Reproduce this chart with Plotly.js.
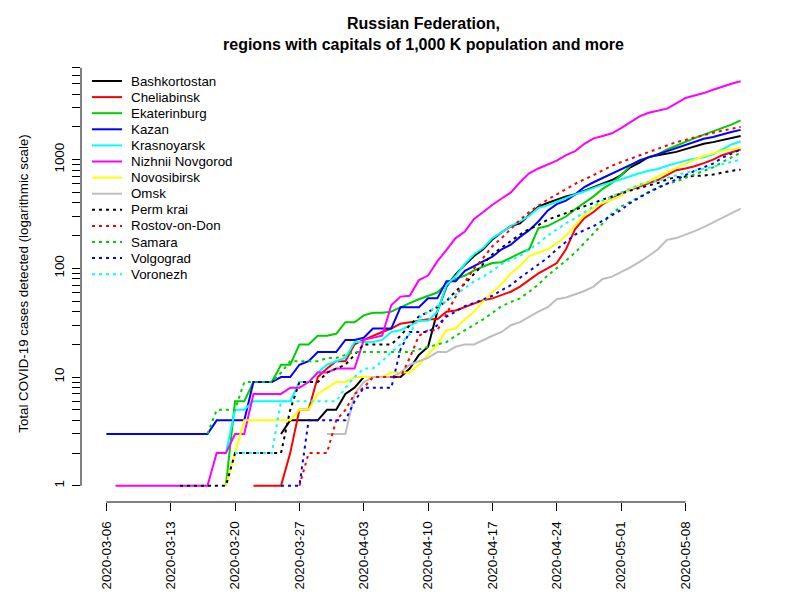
<!DOCTYPE html>
<html><head><meta charset="utf-8">
<script src="https://cdn.plot.ly/plotly-3.0.1.min.js"></script>
<style>body{margin:0;padding:0;background:#fff}#chart{width:800px;height:600px}</style>
</head><body><div id="chart"></div>
<script>
// ---- data (day index 0 = 2020-03-06) ----
const startDate = '2020-03-06';
const nDays = 70;
const regions = ['Bashkortostan','Cheliabinsk','Ekaterinburg','Kazan','Krasnoyarsk','Nizhnii Novgorod','Novosibirsk','Omsk','Perm krai','Rostov-on-Don','Samara','Volgograd','Voronezh'];
const colors = ['#000000','#FF0000','#00CD00','#0000FF','#00FFFF','#FF00FF','#FFFF00','#BEBEBE','#000000','#FF0000','#00CD00','#0000FF','#00FFFF'];
const lineTypes = ['solid','solid','solid','solid','solid','solid','solid','solid','dotted','dotted','dotted','dotted','dotted'];
const firstDay = [19,16,13,0,13,1,13,24,8,21,11,19,14];

const bashkortostan = [3,4,4,4,4,5,5,7,8,10, 10,10,10,10,12,16,19,40,68,88, 108,130,150,185,215,245,260,310,370,400, 430,460,480,520,560,610,650,720,850,940, 1060,1100,1140,1180,1250,1330,1400,1450,1520,1590, 1650];
const cheliabinsk = [1,1,1,1,2,5,5,10,12,14, 14,20,22,24,26,28,31,32,33,34, 34,40,41,44,48,51,53,57,61,68, 78,90,100,112,150,230,290,330,390,440, 490,530,570,610,650,720,800,830,870,930, 1000,1100,1170,1240];
const ekaterinburg = [1,6,6,9,9,9,13,13,20,20, 24,24,25,32,32,37,39,39,40,44, 48,52,56,60,72,80,86,96,104,112, 114,126,138,150,235,245,270,300,350,400, 460,540,610,720,880,990,1050,1120,1240,1350, 1470,1580,1700,1820,1950,2100,2300];
const kazan = [3,3,3,3,3,3,3,3,3,3, 3,3,4,4,4,4,9,9,9,10, 10,13,14,17,17,17,22,22,23,28, 28,28,44,44,44,53,53,76,76,95, 105,115,128,150,165,195,225,270,340,390, 420,480,560,620,680,740,820,900,980,1050, 1120,1200,1280,1370,1460,1560,1620,1720,1800,1880];
const krasnoyarsk = [2,5,5,6,6,6,6,6,9,9, 11,13,14,15,21,21,21,22,26,27, 30,33,33,40,70,85,110,135,155,190, 215,245,270,305,360,380,410,445,480,510, 550,590,620,660,710,750,790,820,880,930, 980,1020,1050,1120,1240,1380,1470];
const nizhniiNovgorod = [1,1,1,1,1,1,1,1,1,1,1, 2,2,3,3,7,7,7,7,8,8, 9,11,11,12,12,12,22,23,24,46, 55,56,78,86,116,148,190,218,285,330, 385,440,500,620,750,830,900,980,1100,1200, 1400,1570,1650,1750,1950,2200,2500,2700,2800,2950, 3300,3700,3900,4100,4400,4700,5000,5270];
const novosibirsk = [1,2,4,4,4,4,4,4,5,5, 7,8,9,9,10,10,10,10,11,11, 11,13,16,20,27,28,34,40,50,60, 72,90,105,130,140,150,170,200,250,310, 360,400,430,470,540,580,630,700,760,840, 920,1000,1080,1150,1210,1250,1290];
const omsk = [3,3,3,7,9,10,10,10,11,13, 14,15,17,17,19,20,20,22,24,26, 30,32,36,40,44,52,54,58,62,68, 80,84,92,102,115,130,150,183,190,203, 220,240,265,295,320,355];
const permKrai = [1,1,1,1,1,1, 2,2,2,2,2,2, 5,9,9,9,11,12,13,16,20,20, 20,20,24,30,36,40,44,50,62,72, 90,110,135,155,180,205,230,250,280,300, 320,345,370,400,430,460,490,520,550,580, 610,660,690,700,705,715,730,760,790,810];
const rostovOnDon = [1,2,2,2,4,5,7,8,10,10, 10,10,15,24,27,27,38,55,75,100, 125,160,190,230,280,330,380,430,480,540, 600,660,720,800,880,950,1020,1100,1180,1270, 1370,1450,1520,1600,1700,1770,1850,1930,2000];
const samara = [3,5,5,5,9,9,9,9,11,14, 14,14,14,15,15,16,17,17,17,17, 17,17,17,18,19,20,21,24,27,30, 34,39,45,49,53,61,71,86,100,118, 140,170,210,260,320,370,410,460,510,560, 600,630,680,730,790,850,950,1050,1160];
const volgograd = [1,1,1,4,4,4,4,4,6,8, 8,8,8,18,26,26,26,30,36,40, 45,48,52,56,63,70,82,95,110,125, 150,175,205,225,245,275,310,345,400,450, 500,550,600,650,720,790,860,920,1040,1140, 1240];
const voronezh = [2,2,2,2,2,6,6,6,6,6, 6,6,8,10,12,12,14,17,20,25, 35,40,45,50,58,66,76,84,95,110, 120,130,150,170,200,230,260,290,330,370, 420,460,500,550,590,620,640,680,720,760, 790,820,860,910,950,1000];
const seriesValues = [bashkortostan, cheliabinsk, ekaterinburg, kazan, krasnoyarsk, nizhniiNovgorod, novosibirsk, omsk, permKrai, rostovOnDon, samara, volgograd, voronezh];

const xTickVals = ['2020-03-06','2020-03-13','2020-03-20','2020-03-27','2020-04-03','2020-04-10','2020-04-17','2020-04-24','2020-05-01','2020-05-08'];
const yTickVals = [1,2,3,4,5,6,7,8,9,10,20,30,40,50,60,70,80,90,100,200,300,400,500,600,700,800,900,1000,2000,3000,4000,5000,6000,7000];
const yTickLabeled = [1,10,100,1000];

const titleText = 'Russian Federation,<br>regions with capitals of 1,000 K population and more';
const yTitleText = 'Total COVID-19 cases detected (logarithmic scale)';

// ---- build ----
const dates = [];
{
  const d0 = new Date(startDate + 'T00:00:00Z');
  for (let i = 0; i < nDays; i++) {
    const d = new Date(d0.getTime() + i * 86400000);
    dates.push(d.toISOString().slice(0, 10));
  }
}
const FS = 13.33;
const DOT = '3px,4px';
const traces = regions.map((name, i) => {
  const vals = seriesValues[i];
  return {
    type: 'scatter', mode: 'lines', name: name,
    x: dates.slice(firstDay[i], firstDay[i] + vals.length),
    y: vals,
    line: {color: colors[i], width: 2, dash: lineTypes[i] === 'dotted' ? DOT : 'solid'},
    hoverinfo: 'x+y+name'
  };
});

// plot box in pixels
const L = 81, R = 34, T = 65, B = 98, W = 800, H = 600;
const pw = W - L - R, ph = H - T - B;
const px2x = p => (p - L) / pw;
const px2y = p => (H - B - p) / ph;

const shapes = [
  {type: 'line', xref: 'x', yref: 'paper', x0: xTickVals[0], x1: xTickVals[xTickVals.length - 1], y0: 0, y1: 0, line: {color: '#000', width: 1}},
  {type: 'line', xref: 'paper', yref: 'y', x0: 0, x1: 0, y0: yTickVals[0], y1: yTickVals[yTickVals.length - 1], line: {color: '#000', width: 1}}
];
const annotations = [];
regions.forEach((name, i) => {
  const py = 81 + 16.1 * i;
  shapes.push({type: 'line', xref: 'paper', yref: 'paper', x0: px2x(92), x1: px2x(122), y0: px2y(py), y1: px2y(py),
    line: {color: colors[i], width: 2, dash: lineTypes[i] === 'dotted' ? DOT : 'solid'}});
  annotations.push({xref: 'paper', yref: 'paper', x: px2x(129), y: px2y(py), xanchor: 'left', yanchor: 'middle',
    text: name, showarrow: false, font: {size: FS, color: '#000'}});
});

const layout = {
  width: W, height: H,
  margin: {l: L, r: R, t: T, b: B, pad: 0},
  paper_bgcolor: '#fff', plot_bgcolor: '#fff',
  font: {family: 'Liberation Sans, Arial, Helvetica, sans-serif', size: FS, color: '#000'},
  showlegend: false,
  title: {text: titleText, font: {size: 16, color: '#000', weight: 'bold'}, x: (L + pw / 2) / W, xanchor: 'center', xref: 'container', yref: 'container', y: 1 - 29 / H, yanchor: 'middle'},
  xaxis: {
    type: 'date', range: ['2020-03-03 05:45:36', '2020-05-16 18:14:24'],
    showgrid: false, zeroline: false, showline: false,
    ticks: 'outside', ticklen: 8, tickwidth: 1, tickcolor: '#000',
    tickvals: xTickVals, ticktext: xTickVals, tickangle: -90,
    tickfont: {size: FS, color: '#000'}, ticklabelstandoff: 5
  },
  yaxis: {
    type: 'log', range: [-0.1489, 3.871],
    showgrid: false, zeroline: false, showline: false,
    ticks: 'outside', ticklen: 8, tickwidth: 1, tickcolor: '#000',
    tickvals: yTickVals, ticktext: yTickVals.map(v => yTickLabeled.includes(v) ? String(v) : ''),
    tickangle: -90, tickfont: {size: FS, color: '#000'}, ticklabelstandoff: 3,
    title: {text: yTitleText, font: {size: FS, color: '#000'}, standoff: 20}
  },
  shapes: shapes,
  annotations: annotations
};

Plotly.newPlot('chart', traces, layout, {staticPlot: true, displayModeBar: false});
</script>
</body></html>
